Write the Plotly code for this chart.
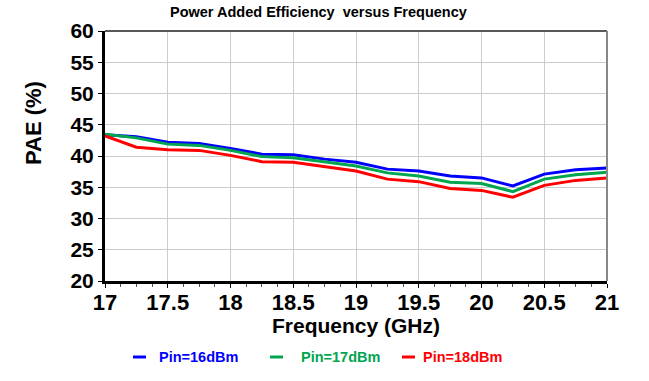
import plotly.graph_objects as go

freq = [17, 17.25, 17.5, 17.75, 18, 18.25, 18.5, 18.75, 19, 19.25, 19.5, 19.75, 20, 20.25, 20.5, 20.75, 21]
pae_16 = [43.4, 43.1, 42.2, 42.0, 41.2, 40.3, 40.2, 39.5, 39.0, 37.9, 37.6, 36.8, 36.5, 35.2, 37.1, 37.8, 38.1]
pae_17 = [43.5, 42.9, 41.9, 41.7, 40.9, 39.9, 39.7, 39.1, 38.4, 37.3, 36.8, 35.8, 35.6, 34.3, 36.3, 37.0, 37.4]
pae_18 = [43.2, 41.4, 41.0, 40.9, 40.1, 39.1, 39.0, 38.3, 37.6, 36.3, 35.9, 34.8, 34.5, 33.4, 35.3, 36.1, 36.5]
series_names = ["Pin=16dBm", "Pin=17dBm", "Pin=18dBm"]
colors = ["#0000FF", "#00A550", "#FF0000"]
x_ticks = [17, 17.5, 18, 18.5, 19, 19.5, 20, 20.5, 21]
x_tick_labels = ["17", "17.5", "18", "18.5", "19", "19.5", "20", "20.5", "21"]
y_ticks = [20, 25, 30, 35, 40, 45, 50, 55, 60]

W, H = 649, 381
L, R, T, B = 105, 42, 31, 100
pw, ph = W - L - R, H - T - B

def px(x):
    return (x - L) / pw

def py(y):
    return 1 - (y - T) / ph

fig = go.Figure()
for vals, name, c in zip([pae_16, pae_17, pae_18], series_names, colors):
    fig.add_trace(go.Scatter(x=freq, y=vals, mode="lines", name=name,
                             line=dict(color=c, width=3), showlegend=False))

font = "Arial, Liberation Sans, sans-serif"
fig.update_layout(
    width=W, height=H,
    margin=dict(l=L, r=R, t=T, b=B),
    paper_bgcolor="white", plot_bgcolor="white",
    font=dict(family=font, color="black"),
    xaxis=dict(range=[17, 21], tickvals=x_ticks, ticktext=["<b>%s</b>" % t for t in x_tick_labels],
               tickfont=dict(size=22, family=font), showgrid=True, gridcolor="#CCCCCC", gridwidth=1,
               showline=True, linecolor="black", linewidth=3, ticks="outside", ticklen=4,
               tickcolor="black", zeroline=False, ticklabelstandoff=-4,
               minor=dict(dtick=0.125, ticks="outside", ticklen=3, tickcolor="#555555", showgrid=False)),
    yaxis=dict(range=[20, 60], tickvals=y_ticks, ticktext=["<b>%d</b>" % t for t in y_ticks],
               tickfont=dict(size=21, family=font), showgrid=True, gridcolor="#CCCCCC", gridwidth=1,
               showline=True, linecolor="black", linewidth=3, ticks="outside", ticklen=4,
               tickcolor="black", zeroline=False),
)

# frame: top and right borders
fig.add_shape(type="line", xref="paper", yref="paper", x0=0, x1=1, y0=1, y1=1,
              line=dict(color="#222222", width=1.5))
fig.add_shape(type="line", xref="paper", yref="paper", x0=1, x1=1, y0=0, y1=1,
              line=dict(color="#888888", width=2))

# title
fig.add_annotation(text="<b>Power Added Efficiency  versus Frequency</b>", xref="paper", yref="paper",
                   x=px(318), y=py(12), xanchor="center", yanchor="middle", showarrow=False,
                   font=dict(size=14.5, family=font, color="black"))
# axis titles
fig.add_annotation(text="<b>Frequency (GHz)</b>", xref="paper", yref="paper",
                   x=px(356), y=py(325), xanchor="center", yanchor="middle", showarrow=False,
                   font=dict(size=21, family=font, color="black"))
fig.add_annotation(text="<b>PAE (%)</b>", xref="paper", yref="paper", textangle=-90,
                   x=px(33), y=py(123), xanchor="center", yanchor="middle", showarrow=False,
                   font=dict(size=22, family=font, color="black"))

# legend
leg_line_x = [133, 270, 402]
leg_text_x = [157, 299, 421]
for lx, tx, name, c in zip(leg_line_x, leg_text_x, series_names, colors):
    fig.add_shape(type="line", xref="paper", yref="paper", x0=px(lx), x1=px(lx + 13),
                  y0=py(357), y1=py(357), line=dict(color=c, width=3))
    fig.add_annotation(text="<b>%s</b>" % name, xref="paper", yref="paper", x=px(tx), y=py(357),
                       xanchor="left", yanchor="middle", showarrow=False,
                       font=dict(size=14.5, family=font, color=c))

fig.write_html("out.html", config={"displayModeBar": False},
               post_script="document.body.style.margin='0';")
